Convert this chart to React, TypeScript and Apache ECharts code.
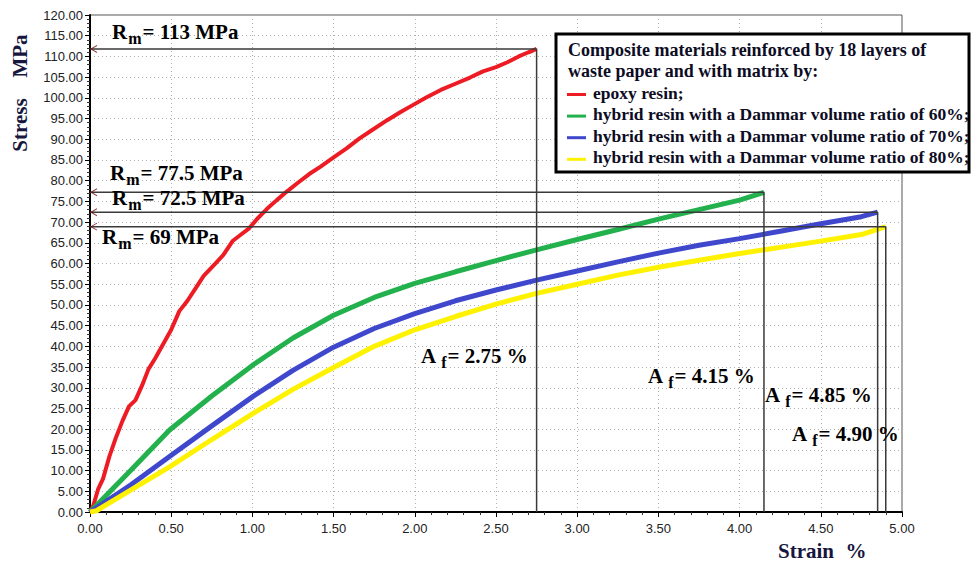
import React, { useEffect, useRef } from "react";
import * as echarts from "echarts";

// ---- data (strain %, stress MPa) ----
const epoxyStrain = [0, 0.02, 0.05, 0.08, 0.12, 0.16, 0.2, 0.24, 0.28, 0.32, 0.36, 0.4, 0.45, 0.5, 0.55, 0.6, 0.65, 0.7, 0.76, 0.82, 0.88, 0.93, 0.98, 1.03, 1.09, 1.15, 1.21, 1.28, 1.35, 1.42, 1.5, 1.58, 1.66, 1.74, 1.83, 1.91, 1.99, 2.07, 2.16, 2.25, 2.34, 2.42, 2.5, 2.57, 2.64, 2.7, 2.75];
const epoxyStress = [0, 1.5, 5.5, 8, 13.5, 18, 22, 25.5, 27, 30.5, 34.5, 37, 40.5, 44, 48.5, 51, 54, 57, 59.5, 62, 65.5, 67, 68.5, 70.8, 73.2, 75.3, 77.3, 79.5, 81.6, 83.4, 85.6, 87.8, 90.2, 92.3, 94.6, 96.5, 98.3, 100.1, 101.9, 103.4, 104.9, 106.4, 107.4, 108.6, 110.0, 111.0, 111.8];

const d60Strain = [0, 0.25, 0.49, 0.75, 1.0, 1.25, 1.5, 1.75, 2.0, 2.25, 2.5, 2.75, 3.0, 3.25, 3.5, 3.75, 4.0, 4.15];
const d60Stress = [0, 10, 19.8, 28, 35.4, 42, 47.5, 51.8, 55.2, 58.0, 60.7, 63.3, 65.8, 68.2, 70.7, 73.0, 75.3, 77.2];

const d70Strain = [0, 0.25, 0.49, 0.75, 1.0, 1.25, 1.5, 1.75, 2.0, 2.25, 2.5, 2.75, 3.0, 3.25, 3.5, 3.75, 4.0, 4.25, 4.5, 4.75, 4.85];
const d70Stress = [0, 6.5, 13.4, 20.8, 27.8, 34.2, 39.8, 44.3, 47.9, 51.0, 53.6, 56.0, 58.2, 60.4, 62.5, 64.4, 66.0, 67.8, 69.6, 71.3, 72.4];

const d80Strain = [0, 0.04, 0.25, 0.49, 0.75, 1.0, 1.25, 1.5, 1.75, 2.0, 2.25, 2.5, 2.75, 3.0, 3.25, 3.5, 3.75, 4.0, 4.25, 4.5, 4.75, 4.9];
const d80Stress = [0, 0.3, 5.3, 10.9, 17.5, 23.7, 29.6, 34.9, 40.0, 44.0, 47.2, 50.2, 52.8, 55.0, 57.2, 59.1, 60.8, 62.4, 63.9, 65.4, 67.0, 68.9];

const failureStrain = [2.75, 4.15, 4.85, 4.9];
const failureStress = [111.8, 77.2, 72.4, 68.9];

const rmLabels = ["113", "77.5", "72.5", "69"];
const afLabels = ["2.75", "4.15", "4.85", "4.90"];

const seriesNames = [
  "epoxy resin;",
  "hybrid resin with a Dammar volume ratio of 60%;",
  "hybrid resin with a Dammar volume ratio of 70%;",
  "hybrid resin with a Dammar volume ratio of 80%;",
];
const legendTitle = ["Composite materials reinforced by 18 layers of", "waste paper and with matrix by:"];
const colors = ["#ED1C24", "#22B14C", "#3F48CC", "#FFF200"];

const xTickMin = 0, xTickMax = 5, xTickStep = 0.5;
const yTickMin = 0, yTickMax = 120, yTickStep = 5;

const zip = (a: number[], b: number[]) => a.map((v, i) => [v, b[i]]);

const SERIF = "'Liberation Serif', 'Times New Roman', serif";
const SANS = "'Liberation Sans', Arial, sans-serif";

export default function App() {
  const ref = useRef<HTMLDivElement>(null);
  useEffect(() => {
    if (!ref.current) return;
    const chart = echarts.init(ref.current, undefined, { renderer: "svg" });
    const curves = [
      zip(epoxyStrain, epoxyStress),
      zip(d60Strain, d60Stress),
      zip(d70Strain, d70Stress),
      zip(d80Strain, d80Stress),
    ];
    const curveSeries = curves.map((data, i) => ({
      type: "line",
      name: seriesNames[i],
      data,
      showSymbol: false,
      symbol: "none",
      smooth: false,
      lineStyle: { color: colors[i], width: i === 0 ? 4 : 5 },
      z: 3 + i,
    }));
    const refSeries = failureStrain.map((e, i) => ({
      type: "line",
      data: [
        [0, failureStress[i]],
        [e, failureStress[i]],
        [e, 0],
      ],
      showSymbol: false,
      symbol: "none",
      lineStyle: { color: "#3a3a3a", width: 1.5 },
      silent: true,
      z: 10,
    }));
    const arrowSeries = {
      type: "scatter",
      data: failureStress.map((s) => [0, s]),
      symbol: "path://M10,0 L0,5 L10,10",
      symbolSize: [6, 7],
      symbolOffset: [4, 0],
      itemStyle: { color: "none", borderColor: "#7a1010", borderWidth: 1 },
      silent: true,
      z: 11,
    };

    const mk = (fs: number, sub: number, off: number) => ({
      b: { fontFamily: SERIF, fontWeight: "bold", fontSize: fs, color: "#1a1a1a", verticalAlign: "top", lineHeight: fs + 3 },
      s: { fontFamily: SERIF, fontWeight: "bold", fontSize: sub, color: "#1a1a1a", verticalAlign: "top", lineHeight: sub, padding: [off, 1, 0, 1] },
    });
    const rich = mk(21, 16, 9);
    // y = baseline - 20
    const rmPos = [
      [112, 21],
      [110, 162],
      [112, 187],
      [102, 226],
    ];
    const afPos = [
      [421, 345],
      [648, 365],
      [765, 384],
      [792, 423],
    ];
    const graphics: any[] = [];
    rmLabels.forEach((t, i) => {
      graphics.push({
        type: "text",
        x: rmPos[i][0],
        y: rmPos[i][1],
        z: 20,
        style: { text: `{b|R}{s|m}{b|= ${t} MPa}`, rich },
      });
    });
    afLabels.forEach((t, i) => {
      graphics.push({
        type: "text",
        x: afPos[i][0],
        y: afPos[i][1],
        z: 20,
        style: { text: `{b|A}{s| f}{b|= ${t} %}`, rich },
      });
    });
    // axis titles
    const axisTitle = (text: string, x: number, y: number, rot: number) => ({
      type: "text",
      x,
      y,
      rotation: rot,
      z: 20,
      style: {
        text,
        fontFamily: SERIF,
        fontWeight: "bold",
        fontSize: 21,
        fill: "#16163e",
        align: "center",
        verticalAlign: "middle",
      },
    });
    graphics.push(axisTitle("Stress", 20, 125, Math.PI / 2));
    graphics.push(axisTitle("MPa", 20, 56, Math.PI / 2));
    graphics.push(axisTitle("Strain", 806, 551, 0));
    graphics.push(axisTitle("%", 856, 551, 0));

    // legend box
    const lg: any[] = [
      {
        type: "rect",
        shape: { x: 556, y: 34, width: 413, height: 138 },
        style: { fill: "#fff", stroke: "#000", lineWidth: 3 },
        z: 30,
      },
    ];
    const titleBase = [56, 77];
    legendTitle.forEach((t, i) => {
      lg.push({
        type: "text",
        x: 568,
        y: titleBase[i] - 6,
        z: 31,
        style: {
          text: t,
          fontFamily: SERIF,
          fontWeight: "bold",
          fontSize: 18,
          fill: "#0c0c24",
          verticalAlign: "middle",
        },
      });
    });
    seriesNames.forEach((t, i) => {
      const yb = 98.5 + i * 21.6;
      lg.push({
        type: "line",
        z: 31,
        shape: { x1: 567, y1: yb - 4, x2: 586, y2: yb - 4 },
        style: { stroke: colors[i], lineWidth: 3 },
      });
      lg.push({
        type: "text",
        x: 593,
        y: yb - 6,
        z: 31,
        style: {
          text: t,
          fontFamily: SERIF,
          fontWeight: "bold",
          fontSize: 17.5,
          fill: "#0c0c24",
          verticalAlign: "middle",
        },
      });
    });
    graphics.push(...lg);

    const axisCommon = {
      type: "value",
      axisLine: { show: true, onZero: false, lineStyle: { color: "#000", width: 2 } },
      axisTick: { show: true, length: 5, lineStyle: { color: "#000", width: 1 } },
      minorTick: { show: true, splitNumber: 5, length: 3, lineStyle: { color: "#333", width: 1 } },
      splitLine: { show: true, lineStyle: { type: [1, 3], color: "#b0b0b0", width: 1 } },
      minorSplitLine: { show: false },
    };

    chart.setOption({
      animation: false,
      backgroundColor: "#fff",
      grid: { left: 90, right: 69, top: 15, bottom: 51, show: true, borderColor: "#555", borderWidth: 1, backgroundColor: "transparent" },
      xAxis: {
        ...axisCommon,
        min: xTickMin,
        max: xTickMax,
        interval: xTickStep,
        axisLabel: { formatter: (v: number) => v.toFixed(2), fontFamily: SANS, fontSize: 13, color: "#222", margin: 10 },
      },
      yAxis: {
        ...axisCommon,
        min: yTickMin,
        max: yTickMax,
        interval: yTickStep,
        axisLabel: { formatter: (v: number) => v.toFixed(2), fontFamily: SANS, fontSize: 13, color: "#222", margin: 7 },
      },
      series: [...curveSeries, ...refSeries, arrowSeries],
      graphic: graphics,
    });
    return () => chart.dispose();
  }, []);
  return (
    <div
      ref={ref}
      style={{ position: "absolute", left: 0, top: 0, width: 971, height: 563, background: "#fff" }}
    />
  );
}
